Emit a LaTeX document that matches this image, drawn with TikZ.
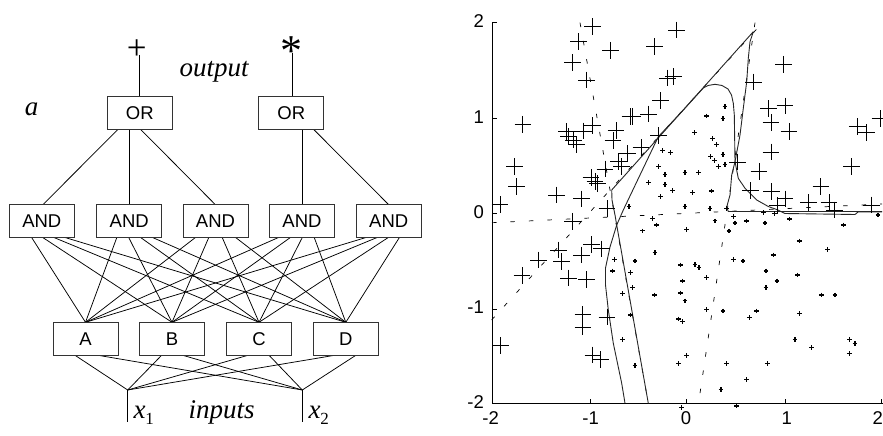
\documentclass[tikz,border=0pt]{standalone}
\usepackage{fontspec}
\setmainfont{Liberation Serif}
\setsansfont{Liberation Sans}
\usetikzlibrary{backgrounds}
\begin{document}
\begin{tikzpicture}[x=1pt,y=-1pt,
 gate/.style={draw=black!80, fill=white, line width=0.9pt, minimum width=65pt, minimum height=32.5pt, inner sep=0pt, font=\sffamily\fontsize{18.5}{18.5}\selectfont},
 wire/.style={line width=0.75pt},
 itl/.style={font=\itshape\fontsize{27}{27}\selectfont, inner sep=0pt, anchor=base},
 ticklbl/.style={font=\sffamily\fontsize{18.5}{18.5}\selectfont, inner sep=0pt},
 axisline/.style={line width=0.9pt},
 bigplus/.style={line width=0.9pt},
 smallplus/.style={line width=1.1pt},
 hplane/.style={line width=0.7pt, dash pattern=on 4.5pt off 14pt},
 bound/.style={line width=0.9pt, black!85, line join=round},
]
\useasboundingbox (0,0) rectangle (883,436);

% ---------------- network ----------------
\node[gate] (or1) at (139.8,113) {OR};
\node[gate] (or2) at (291.3,113) {OR};
\node[gate] (and1) at (41.8,220.8) {AND};
\node[gate] (and2) at (129.2,220.8) {AND};
\node[gate] (and3) at (215.5,220.8) {AND};
\node[gate] (and4) at (302,220.8) {AND};
\node[gate] (and5) at (388.7,220.8) {AND};
\node[gate] (A) at (85.5,339) {A};
\node[gate] (B) at (172,339) {B};
\node[gate] (C) at (259,339) {C};
\node[gate] (D) at (345.8,339) {D};

\node[font=\fontsize{35}{35}\selectfont, inner sep=0pt] (plus) at (136.7,50) {+};
\node[font=\fontsize{44}{44}\selectfont, inner sep=0pt, anchor=north] (star) at (291,36) {*};
\node[itl] (outlbl) at (214,76) {output};
\node[itl] (alb) at (31.7,115) {a};
\node[itl] (inlbl) at (221.7,418.3) {inputs};
\node[itl, anchor=base west] (x1l) at (133.3,418.3) {x\raisebox{-6pt}{\upshape\fontsize{17}{17}\selectfont 1}};
\node[itl, anchor=base west] (x2l) at (308.3,418.3) {x\raisebox{-6pt}{\upshape\fontsize{17}{17}\selectfont 2}};

\coordinate (or1f) at (129.3,118);
\coordinate (or2f) at (302.3,118);
\coordinate (and1t) at (43.3,204.3);
\coordinate (and2t) at (129.3,204.3);
\coordinate (and3t) at (215,204.3);
\coordinate (and4t) at (302.3,204.3);
\coordinate (and5t) at (388.3,204.3);
\coordinate (and1f) at (23.7,225);
\coordinate (and2f) at (121.8,224);
\coordinate (and3f) at (215.5,222);
\coordinate (and4f) at (309.2,224);
\coordinate (and5f) at (407.3,225);
\coordinate (Af) at (67,350);
\coordinate (Bf) at (166.3,350.5);
\coordinate (Cf) at (264.5,350.5);
\coordinate (Df) at (363.2,350.5);
\coordinate (x1j) at (127.7,390);
\coordinate (x2j) at (302.3,390);
\coordinate (x1e) at (127.7,422.3);
\coordinate (x2e) at (302.3,422.3);
\coordinate (plusb) at (139.3,55);
\coordinate (starb) at (292,53);

\begin{scope}[on background layer]
 \draw[wire] (plusb) -- (plusb |- or1.north);
 \draw[wire] (starb) -- (starb |- or2.north);
 \foreach \t in {and1t,and2t,and3t} \draw[wire] (or1f) -- (\t);
 \foreach \t in {and4t,and5t} \draw[wire] (or2f) -- (\t);
 \foreach \f in {and1f,and2f,and3f,and4f,and5f}
  \foreach \t in {A,B,C,D} \draw[wire] (\f) -- (\t.north);
 \foreach \f in {Af,Bf,Cf,Df}
  \draw[wire] (x1j) -- (\f) -- (x2j);
 \draw[wire] (x1j) -- (x1e);
 \draw[wire] (x2j) -- (x2e);
\end{scope}

% ---------------- plot ----------------
\draw[axisline] (492.3,22.7) -- (492.3,403.5) -- (882.5,403.5);
\foreach \yy in {22.7,118.3,213.3,309,403.5} \draw[axisline] (492.3,\yy) -- (496.5,\yy);
\foreach \xx in {590,686.5,785,881.7} \draw[axisline] (\xx,403.5) -- (\xx,399.3);
\foreach \yy/\t in {21.2/2,116.8/1,211.8/0,307.5/-1,402/-2}
  \node[ticklbl, anchor=east] at (484,\yy) {\t};
\foreach \xx/\t in {490.7/-2,590.7/-1,686/0,786.7/1}
  \node[ticklbl] at (\xx,418.3) {\t};
\node[ticklbl, anchor=east] at (883,418.3) {2};

% hyperplanes (dashed)
\draw[hplane] (580,22.7) -- (648.3,403.3);
\draw[hplane] (491.6,320) -- (758.3,27.3);
\draw[hplane] (492,222.7) -- (882,204);
\draw[hplane] (755,22.7) -- (698.5,403.3);

% decision boundaries (solid)
\draw[bound] (648.3,403.3) -- (616.7,225) -- (615,215) -- (612,200) -- (611.7,190) -- (753.3,31.7)
  -- (750,41.7) -- (748.3,58.3) -- (746.7,81.7) -- (743.3,108.3) -- (740,135) -- (735,161.7)
  -- (731.7,175) -- (730,195) -- (726.7,207) -- (728.3,211.5) -- (882,211.5);
\draw[bound] (625,403.3) -- (621.7,383.3) -- (613.3,343.3) -- (608.3,310) -- (605.5,285) -- (605.5,268)
  -- (610,247) -- (616.7,225) -- (623.3,210) -- (640,175) -- (658.3,136.7) -- (681,112.5) -- (703.3,88)
  -- (708,85.5) -- (715,84.3) -- (722,85.5) -- (728,89) -- (731.5,95) -- (733.3,103.3) -- (734.3,115)
  -- (735,161.7) -- (738.3,178.3) -- (745,188.3) -- (756.7,200) -- (768.3,206.5) -- (776.7,209.5)
  -- (785,213.5) -- (855,214.5) -- (858,212) -- (882,212);

% class "+" samples (large)
\foreach \px/\py in {592.3/26.7,676.7/30,578.3/41.7,654.3/46.7,610.3/50.3,572.3/62.7,586.7/80,667.7/78,673.3/76.5,
 660.5/100.5,648.3/114,630/116.3,632.5/116.3,522.8/124.2,592.5/125.5,616/130.5,583.7/131,566.7/131.7,568.3/136.7,
 573.3/140,576.7/144.3,613/140.5,658.3/135.5,641/147.5,627.5/153.7,618.3/161.7,621.7/166.7,605/169,514.3/166.7,
 591/177.7,595/181.7,597.7/183.3,516.7/186.7,556.7/195,581.3/198.8,500/204.3,607/208.3,
 783.3/64.3,753.3/82,768.3/108.3,785/105.8,771/122.5,789/131.5,857.2/126.3,866.7/132.5,880/118.3,771/152,
 737.7/162,759/171.7,851.7/166.7,750.5/190.5,771.3/191.7,785/198.8,820.8/186.3,808.6/202.5,829/202.5,
 871.7/205,777/205.5,834.5/210,
 572.5/221.2,558.3/250,591.3/244.5,601.3/248.8,581.7/255,538.3/260,561.3/261.7,522/275.5,568.3/278,586.7/279.7,
 582.8/314.5,582.8/327,607/317,500.5/345.3,592.8/355,600.8/359.6}
  \draw[bigplus] (\px-8.3,\py) -- (\px+8.3,\py) (\px,\py-8.3) -- (\px,\py+8.3);

% other class samples (small)
\foreach \px/\py in {662.7/150.7,670.7/152.3,658.3/166.5,685/172.5,665/174.2,648.3/182.5,665/184.7,672.5/190.7,
 660.5/196.7,685/206.5,629/206.5,
 725/106.7,706.7/116,723/118.3,694.5/132.5,712.7/138.3,716.7/144.5,723/154.2,710.3/156.3,714.6/160.5,718.2/166.2,
 725/164.2,698.3/172.5,711.3/191,692.5/192.7,710/208.3,726.7/208.3,763.3/212.5,
 652.7/218.3,656.7/225,642.5/230.8,686.5/229.2,715/220.8,733.3/216.7,735/223,746.7/221,765/223,774.3/213.3,
 789.3/219,729/231,843.3/225,878/215,
 655/252.7,635/261,614.5/259.2,612.7/271,630.7/272.7,680.3/265,695/264.5,699/267.3,682.7/281,632.7/287.3,
 622.5/293.3,654.7/295,680.7/293,685/300.8,706.7/277.3,733.3/259.2,743/261,766/271,777/281,797.3/275,766/287.3,
 773.2/255,799.2/241,827.3/249.2,821.3/295,835/295,
 630.7/315,678.3/319,682.7/321.3,706.7/309.3,723/311,749.2/317.3,756.7/311,799.3/313.3,622.5/339.2,795/339.2,
 811.3/347.3,849.3/339.2,855/343.3,849.2/353.3,686.7/355.3,678.3/363.3,635/365.3,726.7/363.3,767.2/363.3,
 746.7/379.3,721/389.3,681.2/407.3,736.7/406}
  \draw[smallplus] (\px-2.3,\py) -- (\px+2.3,\py) (\px,\py-2.3) -- (\px,\py+2.3);
\end{tikzpicture}
\end{document}
